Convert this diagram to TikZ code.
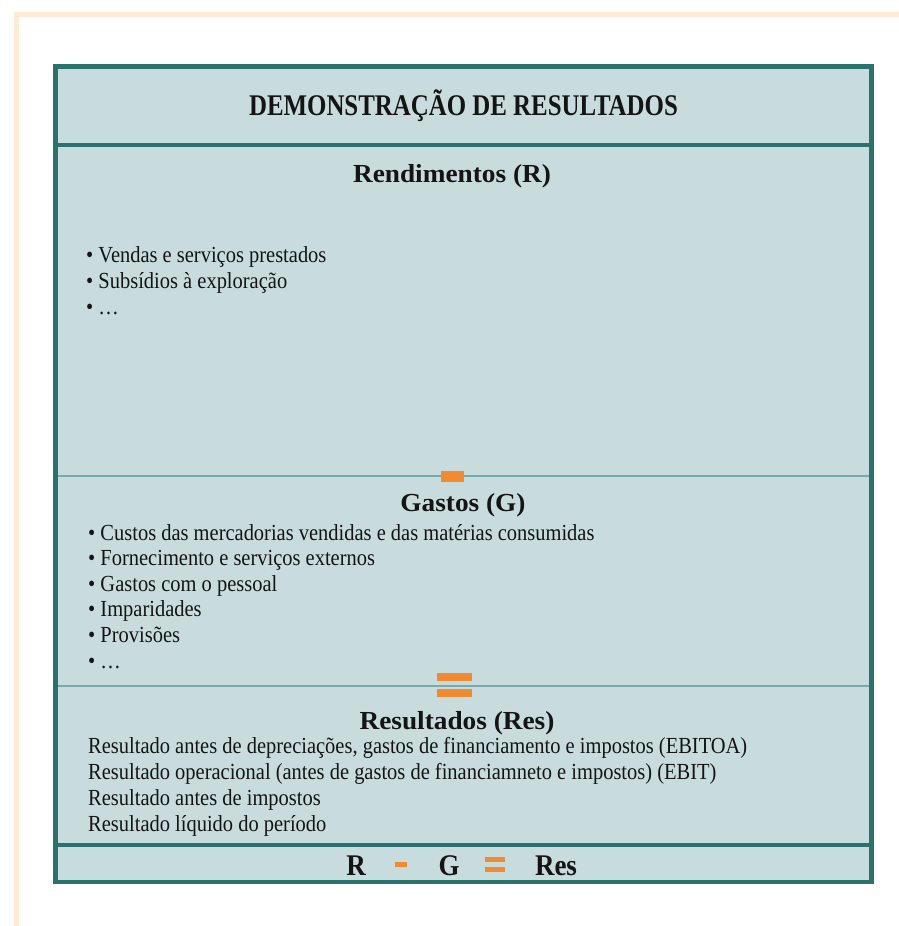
\documentclass[tikz,border=0pt]{standalone}
\usepackage{fontspec}
\setmainfont{Liberation Serif}
\newfontfamily\titlefont{Liberation Serif}[FakeStretch=0.83]
\newfontfamily\headfont{Liberation Serif}[FakeStretch=1.05]
\newfontfamily\bodyfont{Liberation Serif}[FakeStretch=0.89]
\newfontfamily\eqfont{Liberation Serif}[FakeStretch=0.9]
\definecolor{peach}{HTML}{FDEBD6}
\definecolor{boxfill}{HTML}{C8DCDD}
\definecolor{darkteal}{HTML}{2B726E}
\definecolor{lightteal}{HTML}{79A9A8}
\definecolor{accent}{HTML}{F38A2F}
\definecolor{ink}{HTML}{141414}
\begin{document}
\begin{tikzpicture}[x=1pt,y=-1pt,
  ctr/.style={inner sep=0pt, anchor=base, text=ink},
  lft/.style={inner sep=0pt, anchor=base west, text=ink},
  titletext/.style={ctr, font=\titlefont\bfseries\fontsize{30}{30}\selectfont},
  headtext/.style={ctr, font=\headfont\bfseries\fontsize{26}{26}\selectfont},
  bodytext/.style={lft, font=\bodyfont\fontsize{23}{23}\selectfont},
  eqtext/.style={ctr, font=\eqfont\bfseries\fontsize{30}{30}\selectfont},
  thickrule/.style={line width=4pt, draw=darkteal},
  thinrule/.style={line width=2.5pt, draw=lightteal},
  opbar/.style={fill=accent}
]
\useasboundingbox (0,0) rectangle (899,926);
% outer peach frame
\draw[peach, line width=5pt] (14,14.5) -- (899,14.5);
\draw[peach, line width=5pt] (16.5,12) -- (16.5,926);
% main box
\fill[boxfill] (55.5,66.5) rectangle (871.5,882);
\draw[thickrule] (55.5,145) -- (871.5,145);
\draw[thinrule] (55.5,476) -- (871.5,476);
\draw[thinrule] (55.5,686) -- (871.5,686);
\draw[thickrule] (55.5,845) -- (871.5,845);
\draw[line width=4.5pt, draw=darkteal] (55.5,66.5) rectangle (871.5,882);
% operators between sections
\fill[opbar] (441,471) rectangle (464,482);
\fill[opbar] (437,673) rectangle (472,681);
\fill[opbar] (437,689) rectangle (472,697);
% texts
\node[titletext] (title) at (463.5,115) {DEMONSTRAÇÃO DE RESULTADOS};
\node[headtext] (rend) at (452,182) {Rendimentos (R)};
\node[bodytext] (r1) at (86,262) {• Vendas e serviços prestados};
\node[bodytext] (r2) at (86,288) {• Subsídios à exploração};
\node[bodytext] (r3) at (86,314) {• …};
\node[headtext] (gast) at (463,511) {Gastos (G)};
\node[bodytext] (g1) at (88,540) {• Custos das mercadorias vendidas e das matérias consumidas};
\node[bodytext] (g2) at (88,565.6) {• Fornecimento e serviços externos};
\node[bodytext] (g3) at (88,591.2) {• Gastos com o pessoal};
\node[bodytext] (g4) at (88,616.8) {• Imparidades};
\node[bodytext] (g5) at (88,642.4) {• Provisões};
\node[bodytext] (g6) at (88,668) {• …};
\node[headtext] (res) at (457,729) {Resultados (Res)};
\node[bodytext] (s1) at (88,753) {Resultado antes de depreciações, gastos de financiamento e impostos (EBITOA)};
\node[bodytext] (s2) at (88,779) {Resultado operacional (antes de gastos de financiamneto e impostos) (EBIT)};
\node[bodytext] (s3) at (88,805) {Resultado antes de impostos};
\node[bodytext] (s4) at (88,831) {Resultado líquido do período};
% bottom equation
\node[eqtext] (eqR) at (356,875) {R};
\node[eqtext] (eqG) at (449,875) {G};
\node[eqtext] (eqRes) at (556,875) {Res};
\fill[opbar] (395,862) rectangle (407,867);
\fill[opbar] (485,857) rectangle (505,862);
\fill[opbar] (485,867) rectangle (505,872);
\end{tikzpicture}
\end{document}
